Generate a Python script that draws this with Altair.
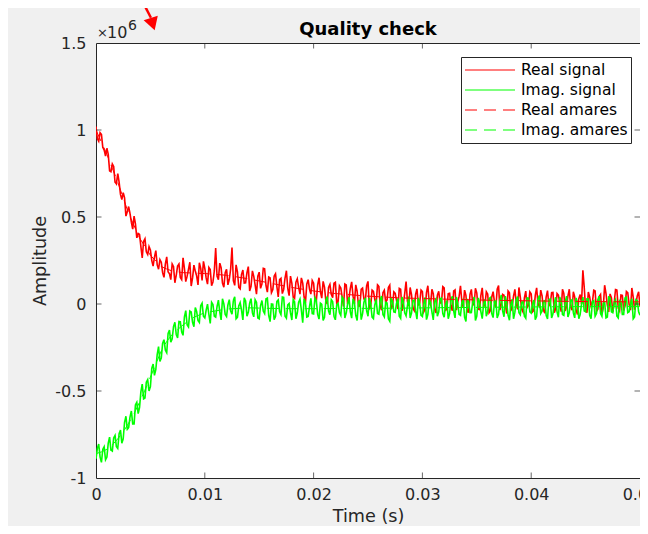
import altair as alt
import numpy as np
import pandas as pd

# ---------------- data (amplitudes in units of 1e3) ----------------
TIME_STEP = 0.00025  # s, sampling interval of the listed samples

# samples at t = i * TIME_STEP
real_signal_k = [
    1020, 935, 975, 885, 895, 765, 805, 700, 750, 630,
    640, 505, 560, 470, 505, 380, 400, 265, 375, 285,
    310, 218, 307, 200, 240, 153, 271, 175, 230, 122,
    219, 152, 265, 129, 199, 103, 223, 162, 237, 136,
    205, 114, 198, 127, 321, 140, 209, 97, 200, 142,
    325, 107, 185, 87, 195, 122, 215, 102, 159, 56,
    183, 115, 202, 68, 150, 82, 174, 41, 148, 84,
    191, 48, 120, 32, 145, 57, 120, 7, 140, 57,
    120, 18, 151, 34, 97, 0, 113, 37, 125, 14,
    92, -14, 110, 33, 127, 1, 74, -12, 92, 16,
    130, -11, 73, 2, 101, -35, 79, 23, 108, -13,
    61, -29, 85, 4, 129, -12, 53, -38, 87, 6,
    71, -30, 105, -6, 59, -51, 73, 8, 93, -23,
    62, -39, 81, 11, 105, -20, 50, -46, 84, -6,
    63, -32, 93, -3, 57, -38, 71, -19, 106, 1,
    50, -55, 65, -15, 84, -31, 39, -46, 74, -7,
    58, -37, 93, -13, 47, -53, 77, 1, 66, -29,
    51, -44, 60, -15, 85, -35, 40, -60, 54, 194,
    -26, 69, -11, 79, -42, 43, -57, 108, -7, 58,
    -47, 83, -23, 52, -38, 72, -3, 92, -33, 47,
    -13,
]
# samples at t = (i + 0.5) * TIME_STEP
real_signal_mid_k = [
    950, 985, 900, 850, 860, 760, 790, 690, 700, 600,
    610, 530, 520, 430, 460, 405, 330, 360, 300, 330,
    250, 270, 225, 255, 180, 230, 185, 140, 215, 165,
    230, 140, 205, 160, 240, 150, 190, 110, 205, 245,
    150, 210, 105, 190, 160, 235, 120, 180, 110, 200,
    135, 225, 95, 170, 120, 180, 75, 190, 110, 160,
    90, 205, 105, 155, 65, 160, 100, 140, 60, 150,
    90, 160, 40, 125, 95, 150, 40, 115, 85, 135,
    25, 110, 70, 130, 20, 95, 55, 120, 5, 105,
    40, 115, 0, 90, 45, 110, -10, 85, 30, 105,
    -25, 80, 25, 110, -15, 65, 10, 95, -30, 70,
    20, 90, -40, 60, 15, 95, -25, 55, -5, 80,
    -45, 65, 10, 85, -30, 50, 5, 100, -40, 60,
    -10, 75, -35, 45, 15, 80, -45, 55, 0, 90,
    -30, 50, -15, 70, -50, 40, 10, 85, -35, 55,
    -5, 75, -40, 45, 5, 95, -30, 35, -20, 70,
    -45, 50, 0, 80, -35, 40, -10, 65, -50, 60,
    5, 85, -40, 45, -15, 70, -35, 30, 0, 95,
    -50, 40, 10, 75, -30, 55, -20, 60, -45, 35,
    5, 80, -40, 50, -10, 65, -35, 40, 0, 70,
]

imag_signal_k = [
    -890, -805, -910, -820, -880, -765, -845, -755, -830, -725,
    -775, -645, -710, -615, -690, -565, -595, -460, -540, -435,
    -475, -345, -375, -245, -310, -205, -280, -150, -200, -105,
    -195, -102, -180, -38, -132, -46, -131, -43, -106, 5,
    -80, -1, -112, -3, -75, 22, -91, 1, -72, 25,
    -59, 42, -77, 8, -92, 17, -48, 31, -74, 10,
    -85, 20, -55, 34, -101, -1, -71, 24, -61, 38,
    -82, 3, -92, 13, -52, 28, -107, 8, -72, 33,
    -57, 18, -87, -2, -77, 43, -62, 14, -91, 4,
    -66, 29, -51, 39, -81, 10, -95, 20, -55, 35,
    -70, 0, -84, 26, -59, 46, -74, 6, -99, 17,
    -48, 32, -83, 12, -68, 43, -52, 23, -87, 3,
    -72, 38, -61, 9, -91, 29, -46, 34, -76, 20,
    -55, 45, -80, 5, -65, 30, -100, 16, -49, 41,
    -69, 11, -84, 26, -44, 37, -78, 17, -58, 52,
    -73, 7, -93, 28, -47, 43, -62, 13, -82, 33,
    -52, 23, -71, 49, -41, 19, -86, 29, -56, 39,
    -76, 14, -65, 45, -50, 25, -80, 10, -60, 40,
    -45, 30, -85, 20, -55, 45, -70, 10, -75, 35,
    -50, 25, -80, 15, -60, 40, -45, 30, -75, 20,
    -65,
]
imag_signal_mid_k = [
    -830, -880, -835, -895, -800, -840, -770, -820, -745, -800,
    -680, -720, -650, -690, -580, -630, -505, -545, -450, -500,
    -370, -410, -290, -330, -225, -265, -170, -220, -130, -175,
    -100, -160, -75, -120, -40, -105, -20, -95, -10, -70,
    -35, -60, 10, -70, -15, -45, 30, -60, -5, -40,
    20, -85, -10, -35, 35, -70, 5, -50, 25, -80,
    -10, -40, 30, -65, 0, -90, 15, -45, 40, -70,
    -5, -50, 25, -85, 10, -35, 30, -75, -15, -55,
    35, -60, 5, -95, 20, -40, 25, -70, -5, -50,
    40, -80, 0, -45, 30, -65, 15, -90, 10, -40,
    35, -75, -5, -55, 25, -60, 10, -85, 30, -45,
    5, -70, 40, -50, -10, -80, 20, -40, 35, -65,
    0, -90, 25, -45, 15, -70, 30, -55, -5, -85,
    20, -40, 40, -60, 5, -75, 25, -50, 10, -95,
    35, -45, 0, -70, 30, -55, 15, -80, 20, -40,
    45, -65, -5, -85, 25, -50, 10, -70, 35, -45,
    0, -90, 30, -55, 15, -65, 25, -80, 5, -45,
    40, -60, 10, -75, 20, -50, 35, -85, 0, -40,
    30, -65, 15, -70, 25, -55, 5, -80, 40, -45,
    10, -70, 20, -60, 35, -50, 0, -85, 25, -45,
]

fit_t = [0, 0.0005, 0.001, 0.0015, 0.002, 0.0025, 0.003, 0.0035, 0.004, 0.0045,
         0.005, 0.0055, 0.006, 0.0065, 0.007, 0.008, 0.009, 0.010, 0.012, 0.014,
         0.016, 0.018, 0.020, 0.022, 0.025, 0.028, 0.032, 0.036, 0.040, 0.045, 0.050]
real_fit_k = [1000, 930, 860, 780, 700, 610, 520, 450, 380, 330,
              280, 247, 215, 201, 190, 180, 178, 175, 165, 145,
              120, 95, 75, 60, 45, 35, 28, 22, 18, 14, 12]
imag_fit_k = [-860, -850, -835, -810, -775, -735, -685, -630, -565, -495,
              -420, -345, -270, -215, -175, -120, -76, -50, -29, -22,
              -25, -27, -27, -26, -25, -24, -21, -19, -17, -15, -15]

series_names = ["Real signal", "Imag. signal", "Real amares", "Imag. amares"]
series_colors = ["#ff0000", "#00ff00", "#ff0000", "#00ff00"]
series_dashes = [[1, 0], [1, 0], [12, 7], [12, 7]]

chart_title = "Quality check"
x_title = "Time (s)"
y_title = "Amplitude"
x_ticks = [0, 0.01, 0.02, 0.03, 0.04, 0.05]
y_ticks = [-1, -0.5, 0, 0.5, 1, 1.5]
x_inner_ticks = [0.01, 0.02, 0.03, 0.04]
y_inner_ticks = [-0.5, 0, 0.5, 1]

# arrow annotation (data coordinates: time, amplitude x1e6)
arrow_t = [0.00447, 0.00505]
arrow_v = [1.715, 1.645]
arrowhead = {"t": [0.00515], "v": [1.620]}

# ---------------- frames ----------------
t_main = list(np.arange(len(real_signal_k)) * TIME_STEP)
t_mid = list((np.arange(len(real_signal_mid_k)) + 0.5) * TIME_STEP)


def frame(t, vals_k, name):
    df = pd.DataFrame({"t": list(t), "v": [v / 1000.0 for v in vals_k], "series": name})
    return df.sort_values("t").reset_index(drop=True)


df_rs = frame(t_main + t_mid, real_signal_k + real_signal_mid_k, "Real signal")
df_is = frame(t_main + t_mid, imag_signal_k + imag_signal_mid_k, "Imag. signal")
df_rf = frame(fit_t, real_fit_k, "Real amares")
df_if = frame(fit_t, imag_fit_k, "Imag. amares")

FONT = "DejaVu Sans"
AX = "#262626"

xs = alt.Scale(domain=[0, 0.05], nice=False, zero=False)
ys = alt.Scale(domain=[-1, 1.5], nice=False, zero=False)

x_axis = alt.Axis(values=x_ticks, labelExpr="toString(datum.value)", title=x_title,
                  titleY=38, titleBaseline="middle", labelPadding=8, labelFlush=False)
y_axis = alt.Axis(values=y_ticks, labelExpr="toString(datum.value)", title=y_title,
                  titleX=-56, titleY=217.5, titleBaseline="middle", titleAngle=-90,
                  labelPadding=10, labelFlush=False)

leg = alt.Legend(title=None, orient="none", legendX=365, legendY=14,
                 symbolType="stroke", symbolSize=2500, symbolStrokeWidth=1.2,
                 clipHeight=20, rowPadding=0,
                 labelFont=FONT, labelFontSize=15.5, labelColor="#000000",
                 fillColor="#ffffff", strokeColor=AX, padding=3, labelOffset=5)

color_enc = alt.Color("series:N", scale=alt.Scale(domain=series_names, range=series_colors), legend=leg)
dash_enc = alt.StrokeDash("series:N", scale=alt.Scale(domain=series_names, range=series_dashes), legend=leg)


def line_layer(df, width):
    return alt.Chart(df).mark_line(strokeWidth=width, clip=True).encode(
        x=alt.X("t:Q", scale=xs, axis=x_axis),
        y=alt.Y("v:Q", scale=ys, axis=y_axis),
        color=color_enc,
        strokeDash=dash_enc,
    )


layers = [line_layer(df_rs, 1.6), line_layer(df_is, 1.6),
          line_layer(df_rf, 1), line_layer(df_if, 1)]

# inward ticks (MATLAB style box)
tick_x_df = pd.DataFrame({"t": x_inner_ticks * 2,
                          "v": [-1] * len(x_inner_ticks) + [1.5] * len(x_inner_ticks)})
tick_y_df = pd.DataFrame({"t": [0] * len(y_inner_ticks) + [0.05] * len(y_inner_ticks),
                          "v": y_inner_ticks * 2})
ticks_x = alt.Chart(tick_x_df).mark_tick(orient="vertical", size=11, thickness=1,
                                         color=AX, clip=True).encode(
    x=alt.X("t:Q", scale=xs), y=alt.Y("v:Q", scale=ys))
ticks_y = alt.Chart(tick_y_df).mark_tick(orient="horizontal", size=11, thickness=1,
                                         color=AX, clip=True).encode(
    x=alt.X("t:Q", scale=xs), y=alt.Y("v:Q", scale=ys))

# chart title, anchored at the top centre of the plot
title_anchor = pd.DataFrame({"t": [0.025], "v": [1.5]})
title_txt = alt.Chart(title_anchor).mark_text(text=chart_title, font=FONT, fontSize=18,
                                              fontWeight="bold", color="#000000",
                                              align="center", baseline="alphabetic", dy=-8).encode(
    x=alt.X("t:Q", scale=xs), y=alt.Y("v:Q", scale=ys))

# x10^6 exponent label
anchor = pd.DataFrame({"t": [0], "v": [1.5]})
times_txt = alt.Chart(anchor).mark_text(text="×", font=FONT, fontSize=13, color=AX,
                                        align="left", baseline="alphabetic", dx=1, dy=-6).encode(
    x=alt.X("t:Q", scale=xs), y=alt.Y("v:Q", scale=ys))
ten_txt = alt.Chart(anchor).mark_text(text="10", font=FONT, fontSize=16, color=AX,
                                      align="left", baseline="alphabetic", dx=11, dy=-5).encode(
    x=alt.X("t:Q", scale=xs), y=alt.Y("v:Q", scale=ys))
exp_txt = alt.Chart(anchor).mark_text(text="6", font=FONT, fontSize=14, color=AX,
                                      align="left", baseline="alphabetic", dx=32, dy=-13).encode(
    x=alt.X("t:Q", scale=xs), y=alt.Y("v:Q", scale=ys))

# red arrow annotation
arrow_line = alt.Chart(pd.DataFrame({"t": arrow_t, "v": arrow_v})).mark_line(
    color="#ff0000", strokeWidth=2.5).encode(
    x=alt.X("t:Q", scale=xs), y=alt.Y("v:Q", scale=ys))
arrow_head = alt.Chart(pd.DataFrame(arrowhead)).mark_point(
    shape="triangle", filled=True, color="#ff0000", opacity=1, size=220, angle=162).encode(
    x=alt.X("t:Q", scale=xs), y=alt.Y("v:Q", scale=ys))

chart = alt.layer(*layers, ticks_x, ticks_y, title_txt, times_txt, ten_txt, exp_txt,
                  arrow_line, arrow_head).properties(
    width=544, height=435,
    autosize=alt.AutoSizeParams(type="none"),
    padding={"left": 88, "top": 35, "right": 0, "bottom": 48},
    background="#f0f0f0",
).configure_view(
    fill="#ffffff", stroke=AX, strokeWidth=1,
).configure_axis(
    domain=False, ticks=False, grid=False,
    labelFont=FONT, labelFontSize=16, labelColor=AX,
    titleFont=FONT, titleFontSize=17.6, titleFontWeight="normal", titleColor=AX,
)

chart.save("out.html", embed_options={"renderer": "svg", "actions": False})
